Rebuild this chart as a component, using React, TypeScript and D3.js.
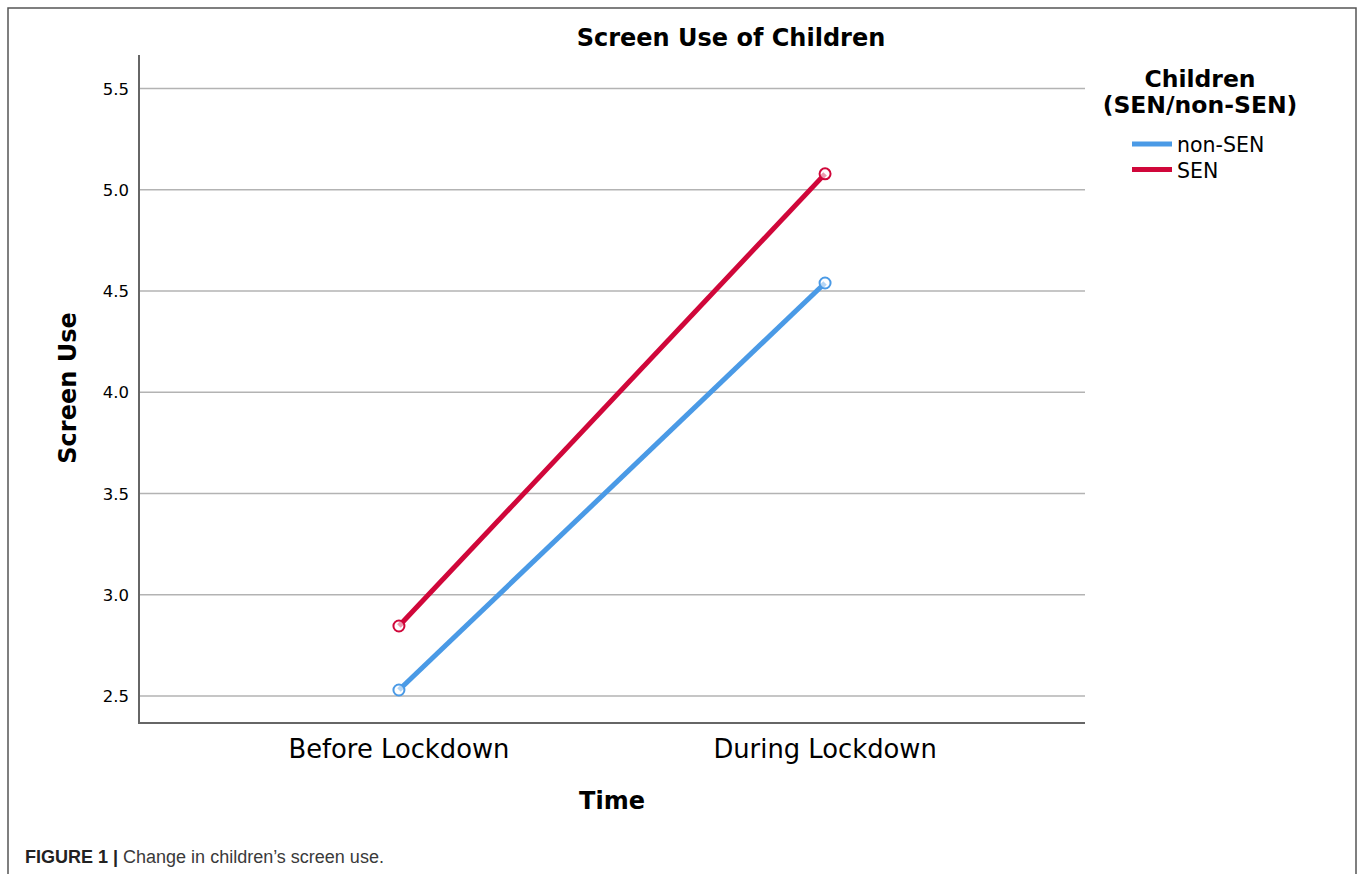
import React from "react";
import * as d3 from "d3";

const categories = ["Before Lockdown", "During Lockdown"];
const seriesNames = ["non-SEN", "SEN"];
const nonSEN = [2.53, 4.54];
const SEN = [2.846, 5.079];
const yTicks = [2.5, 3.0, 3.5, 4.0, 4.5, 5.0, 5.5];
const colors = ["#4A9AE6", "#D0073A"];

const W = 1357;
const H = 874;
const FONT = "'DejaVu Sans', Verdana, sans-serif";

export default function App() {
  const left = 139, right = 1085, top = 55, bottom = 723;
  const y = d3.scaleLinear().domain([2.367, 5.666]).range([bottom, top]);
  const x = d3.scalePoint<string>().domain(categories).range([left, right]).padding(0.61);
  const series = [nonSEN, SEN];
  const line = d3
    .line<number>()
    .x((_, i) => x(categories[i]) as number)
    .y((d) => y(d));

  return (
    <svg
      width={W}
      height={H}
      style={{ position: "absolute", left: 0, top: 0, background: "#fff" }}
    >
      <rect x={8} y={8} width={1348} height={900} fill="none" stroke="#555" strokeWidth={1.5} />
      <text x={731} y={46} textAnchor="middle" fontFamily={FONT} fontWeight="bold" fontSize={24} fill="#000">
        Screen Use of Children
      </text>
      {yTicks.map((t) => (
        <g key={t}>
          <line x1={left} x2={right} y1={y(t)} y2={y(t)} stroke="#b3b3b3" strokeWidth={1.5} />
          <text x={129} y={y(t) + 6} textAnchor="end" fontFamily={FONT} fontSize={16.5} fill="#000">
            {t.toFixed(1)}
          </text>
        </g>
      ))}
      <line x1={left} x2={left} y1={top} y2={bottom + 1} stroke="#666" strokeWidth={2} />
      <line x1={left} x2={right} y1={bottom} y2={bottom} stroke="#666" strokeWidth={2} />
      {categories.map((c) => (
        <text key={c} x={x(c)} y={758} textAnchor="middle" fontFamily={FONT} fontSize={25.8} fill="#000">
          {c}
        </text>
      ))}
      <text x={612} y={809} textAnchor="middle" fontFamily={FONT} fontWeight="bold" fontSize={24} fill="#000">
        Time
      </text>
      <text
        transform={`translate(76,388) rotate(-90)`}
        textAnchor="middle"
        fontFamily={FONT}
        fontWeight="bold"
        fontSize={24}
        fill="#000"
      >
        Screen Use
      </text>
      {series.map((s, si) => (
        <g key={si}>
          <path d={line(s) || ""} fill="none" stroke={colors[si]} strokeWidth={5} />
          {s.map((v, i) => (
            <circle
              key={i}
              cx={x(categories[i])}
              cy={y(v)}
              r={5.5}
              fill="#fff"
              fillOpacity={0.6}
              stroke={colors[si]}
              strokeWidth={2}
            />
          ))}
        </g>
      ))}
      <text x={1200} y={87} textAnchor="middle" fontFamily={FONT} fontWeight="bold" fontSize={23.5} fill="#000">
        Children
      </text>
      <text x={1200} y={113} textAnchor="middle" fontFamily={FONT} fontWeight="bold" fontSize={23.5} fill="#000">
        (SEN/non-SEN)
      </text>
      {seriesNames.map((n, i) => (
        <g key={n}>
          <line x1={1132} x2={1172} y1={144 + i * 25.5} y2={144 + i * 25.5} stroke={colors[i]} strokeWidth={5} />
          <text x={1177} y={152 + i * 25.5} fontFamily={FONT} fontSize={20.5} fill="#000">
            {n}
          </text>
        </g>
      ))}
      <text x={25} y={863} fontFamily="'Liberation Sans', Arial, sans-serif" fontSize={18} fill="#3a3a3a">
        <tspan fontWeight="bold" fill="#222">FIGURE 1 | </tspan>
        <tspan>Change in children’s screen use.</tspan>
      </text>
    </svg>
  );
}
